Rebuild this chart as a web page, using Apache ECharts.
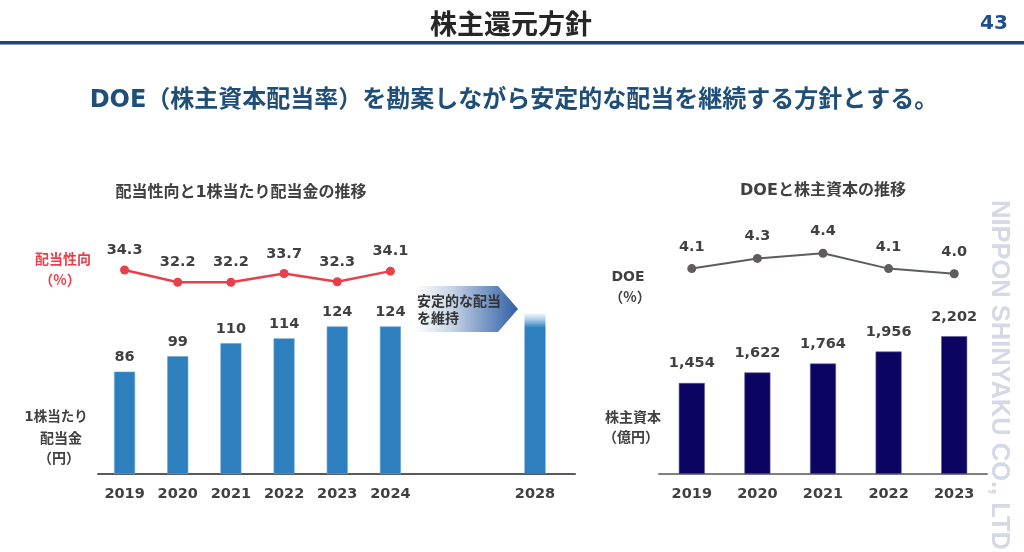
<!DOCTYPE html>
<html><head><meta charset="utf-8">
<script src="https://cdn.jsdelivr.net/npm/echarts@6/dist/echarts.min.js"></script>
<style>html,body{margin:0;padding:0;background:#fff}#c{width:1024px;height:552px}</style>
</head><body><div id="c"></div>
<script>
// ---- data ----
const leftYears = ['2019','2020','2021','2022','2023','2024'];
const dividendPerShare = [86, 99, 110, 114, 124, 124];
const payoutRatio = [34.3, 32.2, 32.2, 33.7, 32.3, 34.1];
const targetYears = ['', '2028'];
const targetDividend = ['-', 135];
const rightYears = ['2019','2020','2021','2022','2023'];
const shareholderEquity = [1454, 1622, 1764, 1956, 2202];
const doeValues = [4.1, 4.3, 4.4, 4.1, 4.0];

const NUM = "'DejaVu Sans','Noto Sans CJK JP',sans-serif";
const JP = "'Noto Sans CJK JP',sans-serif";
const DARK = '#404040';
const BLUE = '#2e7fbe';
const NAVY = '#0b0461';
const RED = '#e8404a';
const GREY = '#615b5b';
const FS = 14.5;

const chart = echarts.init(document.getElementById('c'));

function txt(x, y, text, size, color, align, family) {
  return { type: 'text', x: x, y: y, style: { text: text, font: 'bold ' + size + 'px ' + (family || JP), fill: color, textAlign: align || 'center', textVerticalAlign: 'middle' } };
}

const hiddenX = (gi, data) => ({ type: 'category', gridIndex: gi, data: data, show: false, boundaryGap: true });
const hiddenY = (gi, min, max) => ({ type: 'value', gridIndex: gi, min: min, max: max, show: false });
const xLabel = { color: DARK, fontFamily: NUM, fontWeight: 'bold', fontSize: FS, margin: 13, interval: 0, hideOverlap: false };
const valLabel = { show: true, position: 'top', color: DARK, fontFamily: NUM, fontWeight: 'bold', fontSize: FS };

chart.setOption({
  animation: false,
  backgroundColor: '#fff',
  grid: [
    { left: 98, width: 319, top: 295.5, height: 178.5 },
    { left: 98, width: 319, top: 260, height: 35.2 },
    { left: 415, width: 160, top: 295.5, height: 178.5 },
    { left: 659, width: 328, top: 317.5, height: 156.5 },
    { left: 659, width: 328, top: 243.1, height: 40.8 }
  ],
  xAxis: [
    { type: 'category', gridIndex: 0, data: leftYears, axisTick: { show: false },
      axisLine: { lineStyle: { color: '#595959', width: 2 } }, axisLabel: xLabel },
    hiddenX(1, leftYears),
    { type: 'category', gridIndex: 2, data: targetYears, axisTick: { show: false },
      axisLine: { lineStyle: { color: '#595959', width: 2 } }, axisLabel: xLabel },
    { type: 'category', gridIndex: 3, data: rightYears, axisTick: { show: false },
      axisLine: { lineStyle: { color: '#7f7f7f', width: 2 } }, axisLabel: xLabel },
    hiddenX(4, rightYears)
  ],
  yAxis: [
    hiddenY(0, 0, 150),
    hiddenY(1, 30, 36),
    hiddenY(2, 0, 150),
    hiddenY(3, 0, 2500),
    hiddenY(4, 3.8, 4.6)
  ],
  series: [
    { type: 'bar', xAxisIndex: 0, yAxisIndex: 0, data: dividendPerShare, barWidth: 21,
      itemStyle: { color: BLUE, borderColor: '#6aa3d4', borderWidth: 0.6 },
      label: Object.assign({}, valLabel, { distance: 7 }) },
    { type: 'line', xAxisIndex: 1, yAxisIndex: 1, data: payoutRatio, symbol: 'circle', symbolSize: 9,
      lineStyle: { color: RED, width: 2.5 }, itemStyle: { color: RED },
      label: Object.assign({}, valLabel, { distance: 8, formatter: p => p.value.toFixed(1) }) },
    { type: 'bar', xAxisIndex: 2, yAxisIndex: 2, data: targetDividend, barWidth: 21,
      itemStyle: { color: new echarts.graphic.LinearGradient(0, 0, 0, 1, [
        { offset: 0, color: '#f4f8fc' }, { offset: 0.04, color: '#a9cbe7' },
        { offset: 0.09, color: BLUE }, { offset: 1, color: BLUE }]) } },
    { type: 'bar', xAxisIndex: 3, yAxisIndex: 3, data: shareholderEquity, barWidth: 26,
      itemStyle: { color: NAVY, borderColor: '#5a5a96', borderWidth: 0.6 },
      label: Object.assign({}, valLabel, { distance: 12, formatter: p => p.value.toLocaleString('en-US') }) },
    { type: 'line', xAxisIndex: 4, yAxisIndex: 4, data: doeValues, symbol: 'circle', symbolSize: 9,
      lineStyle: { color: GREY, width: 2 }, itemStyle: { color: GREY },
      label: Object.assign({}, valLabel, { distance: 10, formatter: p => p.value.toFixed(1) }) }
  ],
  graphic: [
    // header
    txt(511, 24, '株主還元方針', 27, '#262626'),
    txt(994, 24, '43', 20, '#1f4e8c', 'center', NUM),
    { type: 'rect', shape: { x: 0, y: 41, width: 1024, height: 3 }, style: { fill: '#1d4677' } },
    { type: 'rect', shape: { x: 0, y: 44, width: 1024, height: 1 }, style: { fill: '#8ea4c4' } },
    txt(514, 101, 'DOE（株主資本配当率）を勘案しながら安定的な配当を継続する方針とする。', 24, '#1f4e79', 'center', NUM),
    // left chart texts
    txt(241, 193, '配当性向と1株当たり配当金の推移', 16, DARK, 'center', NUM),
    txt(63, 259, '配当性向', 14, RED),
    txt(60, 280, '（%）', 14, RED),
    txt(56, 417, '1株当たり', 13.5, DARK, 'center', NUM),
    txt(61, 438, '配当金', 14, DARK),
    txt(59, 458, '（円）', 14, DARK),
    // arrow
    { type: 'polygon', shape: { points: [[415, 286], [498, 286], [518, 309], [498, 332], [415, 332]] },
      style: { fill: new echarts.graphic.LinearGradient(0, 0, 1, 0, [
        { offset: 0, color: '#ffffff' }, { offset: 0.35, color: '#c9d4e6' }, { offset: 1, color: '#2e5fa6' }]) } },
    txt(417, 301, '安定的な配当', 14, '#333333', 'left'),
    txt(417, 318, 'を維持', 14, '#333333', 'left'),
    // right chart texts
    txt(823, 191, 'DOEと株主資本の推移', 16, DARK, 'center', NUM),
    txt(628, 277, 'DOE', 14, DARK, 'center', NUM),
    txt(630, 297, '（%）', 14, DARK),
    txt(633, 417, '株主資本', 14, DARK),
    txt(631, 437, '（億円）', 14, DARK),
    // watermark
    { type: 'text', x: 999, y: 200, rotation: -Math.PI / 2, z: -1,
      style: { text: 'NIPPON SHINYAKU CO., LTD.', font: "bold 25.5px 'Liberation Sans',Arial,sans-serif", fill: '#d5d9e6', textAlign: 'left', textVerticalAlign: 'middle' } }
  ]
});
</script></body></html>
